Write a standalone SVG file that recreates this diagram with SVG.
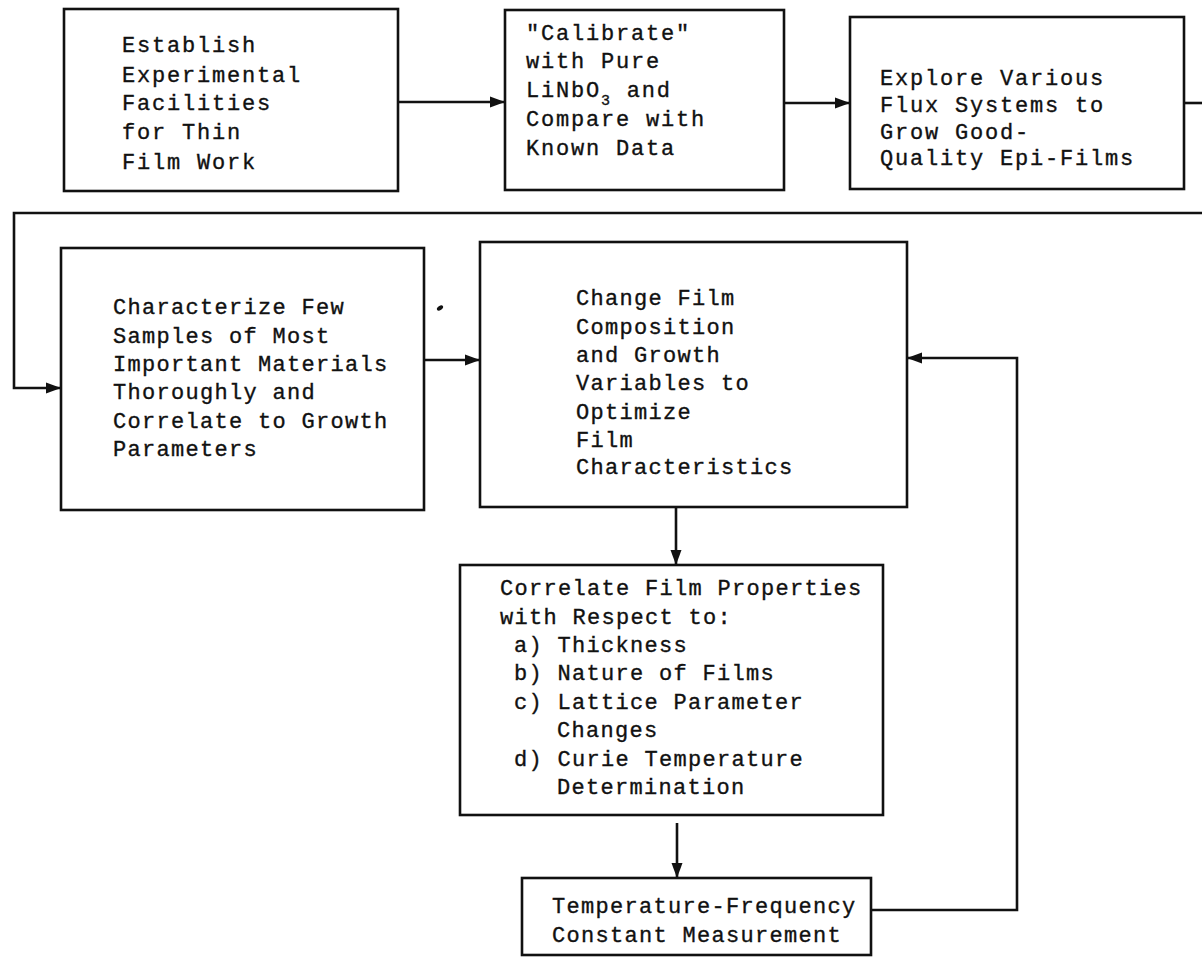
<svg xmlns="http://www.w3.org/2000/svg" width="1202" height="958" viewBox="0 0 1202 958">
<style>
.box{fill:none;stroke:#111;stroke-width:2.6}
.t{font-family:"Liberation Mono","DejaVu Sans Mono",monospace;font-size:22px;letter-spacing:1.3px;fill:#111;stroke:#111;stroke-width:0.35}
.w{letter-spacing:1.8px}
.sub{font-size:15px}
.c{fill:none;stroke:#111;stroke-width:2.6}
</style>
<defs>
<marker id="ah" markerUnits="userSpaceOnUse" markerWidth="16" markerHeight="12" refX="15" refY="6" orient="auto">
<path d="M0,0.5 L15,6 L0,11.5 z" fill="#111"/>
</marker>
</defs>
<rect width="1202" height="958" fill="#fff"/>
<g id="connectors">
<path class="c" d="M398,102 L505,102" marker-end="url(#ah)"/>
<path class="c" d="M784,103 L850,103" marker-end="url(#ah)"/>
<path class="c" d="M1184,103 L1202,103"/>
<path class="c" d="M1202,213 L14,213 L14,388 L61,388" marker-end="url(#ah)"/>
<path class="c" d="M424,360 L480,360" marker-end="url(#ah)"/>
<path class="c" d="M676,507 L676,565" marker-end="url(#ah)"/>
<path class="c" d="M677,823 L677,878" marker-end="url(#ah)"/>
<path class="c" d="M871,910 L1017,910 L1017,358 L907,358" marker-end="url(#ah)"/>
</g>
<g id="n1">
<rect class="box" x="64" y="9" width="334" height="182"/>
<text class="t w" x="122" y="52">Establish</text>
<text class="t w" x="122" y="82">Experimental</text>
<text class="t w" x="122" y="110">Facilities</text>
<text class="t w" x="122" y="139">for Thin</text>
<text class="t w" x="122" y="169">Film Work</text>
</g>
<g id="n2">
<rect class="box" x="505" y="10" width="279" height="180"/>
<text class="t w" x="526" y="40">"Calibrate"</text>
<text class="t w" x="526" y="68">with Pure</text>
<text class="t w" x="526" y="97">LiNbO<tspan class="sub" dy="8">3</tspan><tspan dy="-8"> and</tspan></text>
<text class="t w" x="526" y="126">Compare with</text>
<text class="t w" x="526" y="155">Known Data</text>
</g>
<g id="n3">
<rect class="box" x="850" y="17" width="334" height="172"/>
<text class="t w" x="880" y="85">Explore Various</text>
<text class="t w" x="880" y="112">Flux Systems to</text>
<text class="t w" x="880" y="139">Grow Good-</text>
<text class="t w" x="880" y="165">Quality Epi-Films</text>
</g>
<g id="n4">
<rect class="box" x="61" y="248" width="363" height="262"/>
<text class="t" x="113" y="314">Characterize Few</text>
<text class="t" x="113" y="343">Samples of Most</text>
<text class="t" x="113" y="371">Important Materials</text>
<text class="t" x="113" y="399">Thoroughly and</text>
<text class="t" x="113" y="428">Correlate to Growth</text>
<text class="t" x="113" y="456">Parameters</text>
</g>
<ellipse id="mark" cx="440" cy="308" rx="3.5" ry="2" transform="rotate(-35 440 308)" fill="#111"/>
<g id="n5">
<rect class="box" x="480" y="242" width="427" height="265"/>
<text class="t" x="576" y="305">Change Film</text>
<text class="t" x="576" y="334">Composition</text>
<text class="t" x="576" y="362">and Growth</text>
<text class="t" x="576" y="390">Variables to</text>
<text class="t" x="576" y="419">Optimize</text>
<text class="t" x="576" y="447">Film</text>
<text class="t" x="576" y="474">Characteristics</text>
</g>
<g id="n6">
<rect class="box" x="460" y="565" width="423" height="250"/>
<text class="t" x="500" y="595">Correlate Film Properties</text>
<text class="t" x="500" y="624">with Respect to:</text>
<text class="t" x="514" y="652">a) Thickness</text>
<text class="t" x="514" y="680">b) Nature of Films</text>
<text class="t" x="514" y="709">c) Lattice Parameter</text>
<text class="t" x="557" y="737">Changes</text>
<text class="t" x="514" y="766">d) Curie Temperature</text>
<text class="t" x="557" y="794">Determination</text>
</g>
<g id="n7">
<rect class="box" x="522" y="878" width="349" height="77"/>
<text class="t" x="552" y="913">Temperature-Frequency</text>
<text class="t" x="552" y="942">Constant Measurement</text>
</g>
</svg>
